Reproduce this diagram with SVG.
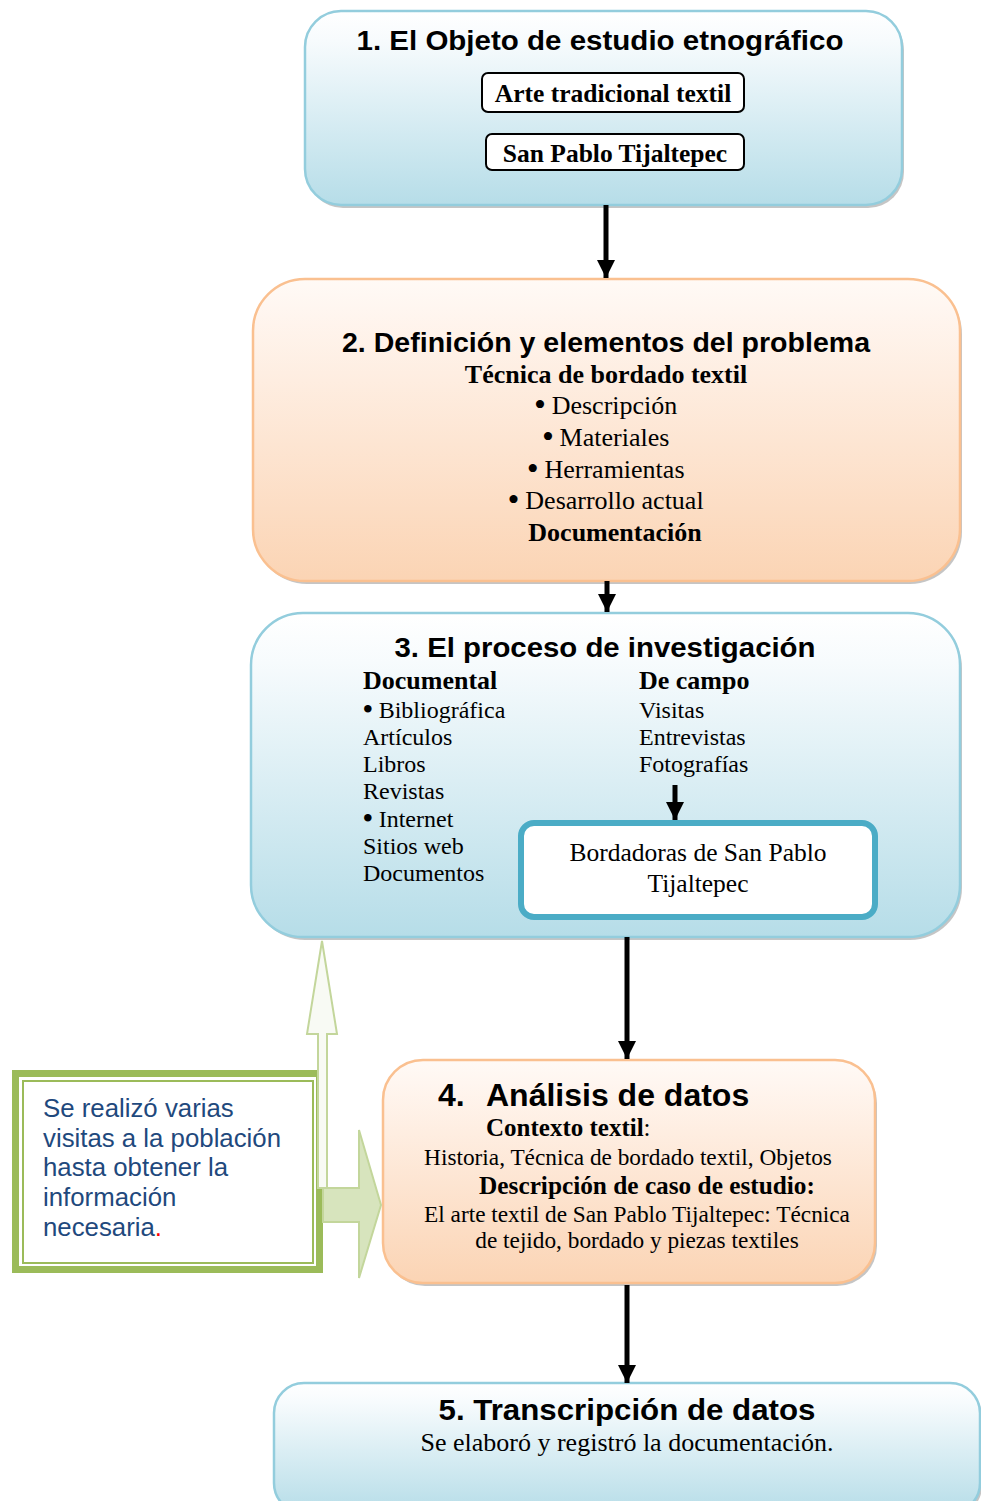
<svg xmlns="http://www.w3.org/2000/svg" width="981" height="1501" viewBox="0 0 981 1501">
<defs>
<linearGradient id="gBlue" x1="0" y1="0" x2="0" y2="1">
<stop offset="0" stop-color="#ffffff"/><stop offset="0.15" stop-color="#f7fbfd"/><stop offset="1" stop-color="#b6dde8"/>
</linearGradient>
<linearGradient id="gPeach" x1="0" y1="0" x2="0" y2="1">
<stop offset="0" stop-color="#fffaf6"/><stop offset="0.1" stop-color="#fff6f0"/><stop offset="1" stop-color="#fbd4b4"/>
</linearGradient>
<marker id="ah" markerUnits="userSpaceOnUse" markerWidth="22" markerHeight="18" refX="18" refY="9" orient="auto">
<path d="M0,0 L18,9 L0,18 z" fill="#000"/>
</marker>
<style>
.blue{fill:url(#gBlue);stroke:#93cddd;stroke-width:2.5}
.peach{fill:url(#gPeach);stroke:#fac090;stroke-width:2.5}
.shadow{fill:#8c8c8c;opacity:0.5}
.title{font-family:"Liberation Sans",Arial,sans-serif;font-weight:bold;fill:#000}
.serif{font-family:"Liberation Serif","Times New Roman",serif;fill:#000}
.b{font-weight:bold}
.bul{font-weight:bold;font-size:1.15em}
.conn{stroke:#000;stroke-width:5;fill:none}
.mid{text-anchor:middle}
.call{font-family:"Liberation Sans",Arial,sans-serif;font-size:25.8px;fill:#1f497d}
</style>
</defs>

<g id="node1">
<rect class="shadow" x="307" y="14" width="597" height="194" rx="36"/>
<rect class="blue" x="305" y="11" width="597" height="194" rx="36"/>
<text class="title mid" x="600" y="50" font-size="28" textLength="487" lengthAdjust="spacingAndGlyphs">1. El Objeto de estudio etnográfico</text>
<rect x="482" y="73" width="262" height="39" rx="6" fill="#fff" stroke="#000" stroke-width="2"/>
<text class="serif b mid" x="613" y="102" font-size="25.5">Arte tradicional textil</text>
<rect x="486" y="134" width="258" height="36" rx="6" fill="#fff" stroke="#000" stroke-width="2"/>
<text class="serif b mid" x="615" y="162" font-size="25.5">San Pablo Tijaltepec</text>
</g>

<g id="node2">
<rect class="shadow" x="255" y="282" width="707" height="302" rx="52"/>
<rect class="peach" x="253" y="279" width="707" height="302" rx="52"/>
<text class="title mid" x="606" y="352" font-size="28" textLength="528" lengthAdjust="spacingAndGlyphs">2. Definición y elementos del problema</text>
<text class="serif b mid" x="606" y="383" font-size="26">Técnica de bordado textil</text>
<text class="serif mid" x="606" y="414" font-size="26"><tspan class="bul">•</tspan> Descripción</text>
<text class="serif mid" x="606" y="446" font-size="26"><tspan class="bul">•</tspan> Materiales</text>
<text class="serif mid" x="606" y="478" font-size="26"><tspan class="bul">•</tspan> Herramientas</text>
<text class="serif mid" x="606" y="509" font-size="26"><tspan class="bul">•</tspan> Desarrollo actual</text>
<text class="serif b mid" x="615" y="541" font-size="26">Documentación</text>
</g>

<g id="node3">
<rect class="shadow" x="253" y="616" width="709" height="324" rx="52"/>
<rect class="blue" x="251" y="613" width="709" height="324" rx="52"/>
<text class="title mid" x="605" y="657" font-size="28" textLength="421" lengthAdjust="spacingAndGlyphs">3. El proceso de investigación</text>
<text class="serif b" x="363" y="689" font-size="26">Documental</text>
<text class="serif" x="363" y="718" font-size="24"><tspan class="bul">•</tspan> Bibliográfica</text>
<text class="serif" x="363" y="745" font-size="24">Artículos</text>
<text class="serif" x="363" y="772" font-size="24">Libros</text>
<text class="serif" x="363" y="799" font-size="24">Revistas</text>
<text class="serif" x="363" y="827" font-size="24"><tspan class="bul">•</tspan> Internet</text>
<text class="serif" x="363" y="854" font-size="24">Sitios web</text>
<text class="serif" x="363" y="881" font-size="24">Documentos</text>
<text class="serif b" x="639" y="689" font-size="26">De campo</text>
<text class="serif" x="639" y="718" font-size="24">Visitas</text>
<text class="serif" x="639" y="745" font-size="24">Entrevistas</text>
<text class="serif" x="639" y="772" font-size="24">Fotografías</text>
</g>

<g id="node3b">
<rect x="521" y="823" width="354" height="94" rx="13" fill="#fff" stroke="#4bacc6" stroke-width="6"/>
<text class="serif mid" x="698" y="861" font-size="25.5">Bordadoras de San Pablo</text>
<text class="serif mid" x="698" y="892" font-size="25.5">Tijaltepec</text>
</g>

<g id="node4">
<rect class="shadow" x="385" y="1063" width="492" height="223" rx="40"/>
<rect class="peach" x="383" y="1060" width="492" height="223" rx="40"/>
<text class="title" x="438" y="1106" font-size="32">4.</text>
<text class="title" x="486" y="1106" font-size="32">Análisis de datos</text>
<text class="serif" x="486" y="1136" font-size="25"><tspan font-weight="bold">Contexto textil</tspan>:</text>
<text class="serif mid" x="628" y="1165" font-size="23.3">Historia, Técnica de bordado textil, Objetos</text>
<text class="serif b mid" x="647" y="1194" font-size="25.3">Descripción de caso de estudio:</text>
<text class="serif mid" x="637" y="1222" font-size="23.3">El arte textil de San Pablo Tijaltepec: Técnica</text>
<text class="serif mid" x="637" y="1248" font-size="23.3">de tejido, bordado y piezas textiles</text>
</g>

<g id="node5">
<rect class="shadow" x="276" y="1386" width="706" height="130" rx="30"/>
<rect class="blue" x="274" y="1383" width="706" height="130" rx="30"/>
<text class="title mid" x="627" y="1420" font-size="30" textLength="377" lengthAdjust="spacingAndGlyphs">5. Transcripción de datos</text>
<text class="serif mid" x="627" y="1451" font-size="26">Se elaboró y registró la documentación.</text>
</g>

<g id="callout">
<rect x="15.5" y="1073.5" width="304" height="196" fill="#fff" stroke="#9bbb59" stroke-width="7"/>
<rect x="23" y="1081" width="290" height="182" fill="none" stroke="#9bbb59" stroke-width="2"/>
<text class="call" x="43" y="1117">Se realizó varias</text>
<text class="call" x="43" y="1147">visitas a la población</text>
<text class="call" x="43" y="1176">hasta obtener la</text>
<text class="call" x="43" y="1206">información</text>
<text class="call" x="43" y="1236">necesaria<tspan fill="#ff0000">.</tspan></text>
</g>

<g id="connectors">
<line class="conn" x1="606" y1="205" x2="606" y2="278" marker-end="url(#ah)"/>
<line class="conn" x1="607" y1="581" x2="607" y2="612" marker-end="url(#ah)"/>
<line class="conn" x1="675" y1="785" x2="675" y2="820" marker-end="url(#ah)"/>
<line class="conn" x1="627" y1="937" x2="627" y2="1059" marker-end="url(#ah)"/>
<line class="conn" x1="627" y1="1285" x2="627" y2="1383" marker-end="url(#ah)"/>
<path d="M318,1188 L318,1034 L307,1034 L322,941 L337,1034 L327,1034 L327,1188 Z" fill="#f8faf4" stroke="#c3d69b" stroke-width="2"/>
<path d="M323,1188 L359,1188 L359,1130 L381,1205 L359,1278 L359,1222 L323,1222 Z" fill="#d7e4bd" stroke="#c3d69b" stroke-width="2"/>
</g>
</svg>
